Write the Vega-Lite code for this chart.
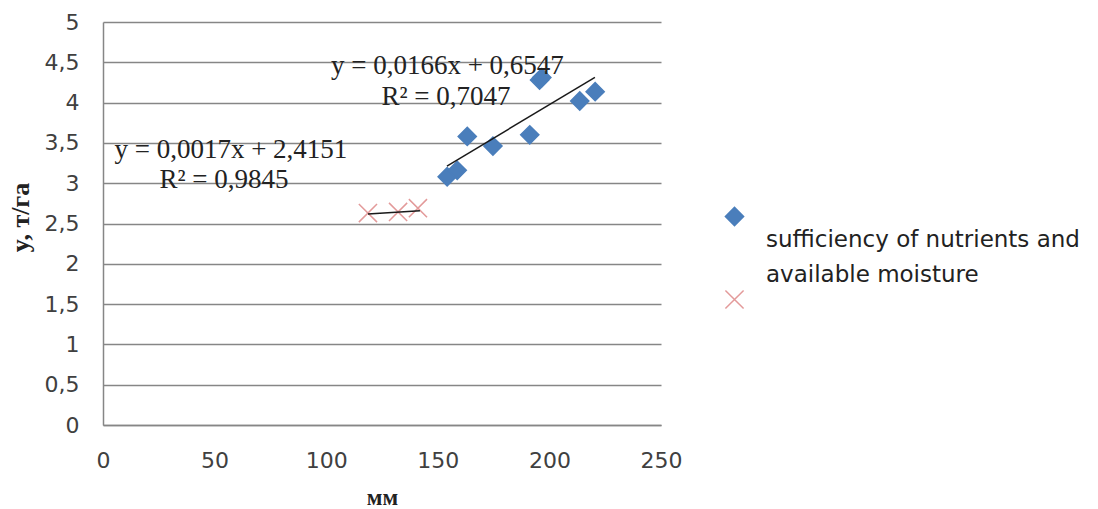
{
  "$schema": "https://vega.github.io/schema/vega-lite/v6.json",
  "width": 558,
  "height": 403,
  "autosize": {"type": "none"},
  "padding": {"left": 103, "top": 22, "right": 437, "bottom": 84},
  "background": "white",
  "config": {
    "view": {"stroke": null},
    "style": {"guide-label": {"lineHeight": 35, "dy": 6}}
  },
  "datasets": {
    "points": [
      {"series": "A", "mm": 154.2, "yield": 3.08},
      {"series": "A", "mm": 158.7, "yield": 3.16},
      {"series": "A", "mm": 163.2, "yield": 3.58},
      {"series": "A", "mm": 174.7, "yield": 3.46},
      {"series": "A", "mm": 191.2, "yield": 3.60},
      {"series": "A", "mm": 195.6, "yield": 4.28},
      {"series": "A", "mm": 196.6, "yield": 4.31},
      {"series": "A", "mm": 213.6, "yield": 4.02},
      {"series": "A", "mm": 220.5, "yield": 4.135},
      {"series": "B", "mm": 118.7, "yield": 2.63},
      {"series": "B", "mm": 132.2, "yield": 2.643},
      {"series": "B", "mm": 141.1, "yield": 2.69}
    ],
    "trends": [
      {"series": "A", "mm": 154.1, "yield": 3.213},
      {"series": "A", "mm": 220.4, "yield": 4.313},
      {"series": "B", "mm": 118.7, "yield": 2.617},
      {"series": "B", "mm": 142.0, "yield": 2.657}
    ],
    "labels": [
      {"mm": 154.3, "yield": 4.454, "text": "y = 0,0166x + 0,6547"},
      {"mm": 153.7, "yield": 4.07, "text": "R² = 0,7047"},
      {"mm": 57.3, "yield": 3.41, "text": "y = 0,0017x + 2,4151"},
      {"mm": 54.2, "yield": 3.04, "text": "R² = 0,9845"}
    ]
  },
  "layer": [
    {
      "data": {"name": "points"},
      "mark": {"type": "point", "filled": true, "size": 330, "strokeWidth": 1.5, "opacity": 1},
      "encoding": {
        "x": {
          "field": "mm", "type": "quantitative",
          "scale": {"domain": [0, 250], "nice": false, "zero": false},
          "axis": {
            "values": [0, 50, 100, 150, 200, 250],
            "grid": false, "ticks": false, "tickSize": 0, "labelFlush": false,
            "domainColor": "#868686", "domainWidth": 1.5,
            "labelFont": "DejaVu Sans", "labelFontSize": 22, "labelColor": "#404040",
            "labelPadding": 19,
            "title": "мм", "titleFont": "Liberation Serif", "titleFontSize": 23,
            "titleFontWeight": "bold", "titleColor": "#222222", "titlePadding": 15
          }
        },
        "y": {
          "field": "yield", "type": "quantitative",
          "scale": {"domain": [0, 5], "nice": false, "zero": false},
          "axis": {
            "values": [0, 0.5, 1, 1.5, 2, 2.5, 3, 3.5, 4, 4.5, 5],
            "labelExpr": "replace(format(datum.value, '~g'), '.', ',')",
            "grid": true, "gridColor": "#868686", "gridWidth": 1.5,
            "ticks": false, "tickSize": 0, "labelFlush": false, "labelOffset": -6,
            "domainColor": "#868686", "domainWidth": 1.5,
            "labelFont": "DejaVu Sans", "labelFontSize": 22, "labelColor": "#404040",
            "labelPadding": 24,
            "title": "y, т/га", "titleFont": "Liberation Serif", "titleFontSize": 26,
            "titleFontWeight": "bold", "titleColor": "#222222", "titlePadding": 11,
            "titleY": 195
          }
        },
        "shape": {
          "field": "series", "type": "nominal",
          "scale": {"domain": ["A", "B"], "range": ["diamond", "M-1,-1L1,1M-1,1L1,-1"]},
          "legend": {
            "title": null,
            "orient": "none", "legendX": 620, "legendY": 183,
            "padding": 0,
            "symbolSize": 330, "symbolStrokeWidth": 1.5,
            "rowPadding": 0,
            "labelFont": "DejaVu Sans", "labelFontSize": 23, "labelColor": "#222222",
            "labelBaseline": "line-top", "labelOffset": 20, "labelLimit": 500,
            "labelExpr": "datum.value == 'A' ? ['sufficiency of nutrients and', 'available moisture'] : ''"
          }
        },
        "fill": {
          "field": "series", "type": "nominal",
          "scale": {"domain": ["A", "B"], "range": ["#4A7EBB", "transparent"]},
          "legend": {
            "title": null,
            "orient": "none", "legendX": 620, "legendY": 183,
            "padding": 0,
            "symbolSize": 330, "symbolStrokeWidth": 1.5,
            "rowPadding": 0,
            "labelFont": "DejaVu Sans", "labelFontSize": 23, "labelColor": "#222222",
            "labelBaseline": "line-top", "labelOffset": 20, "labelLimit": 500,
            "labelExpr": "datum.value == 'A' ? ['sufficiency of nutrients and', 'available moisture'] : ''"
          }
        },
        "stroke": {
          "field": "series", "type": "nominal",
          "scale": {"domain": ["A", "B"], "range": ["#4A7EBB", "#E39A9A"]},
          "legend": {
            "title": null,
            "orient": "none", "legendX": 620, "legendY": 183,
            "padding": 0,
            "symbolSize": 330, "symbolStrokeWidth": 1.5,
            "rowPadding": 0,
            "labelFont": "DejaVu Sans", "labelFontSize": 23, "labelColor": "#222222",
            "labelBaseline": "line-top", "labelOffset": 20, "labelLimit": 500,
            "labelExpr": "datum.value == 'A' ? ['sufficiency of nutrients and', 'available moisture'] : ''"
          }
        }
      }
    },
    {
      "data": {"name": "trends"},
      "mark": {"type": "line", "color": "#1a1a1a", "strokeWidth": 1.5},
      "encoding": {
        "x": {"field": "mm", "type": "quantitative"},
        "y": {"field": "yield", "type": "quantitative"},
        "detail": {"field": "series", "type": "nominal"}
      }
    },
    {
      "data": {"name": "labels"},
      "mark": {"type": "text", "font": "Liberation Serif", "fontSize": 27, "color": "#222222", "align": "center", "baseline": "middle"},
      "encoding": {
        "x": {"field": "mm", "type": "quantitative"},
        "y": {"field": "yield", "type": "quantitative"},
        "text": {"field": "text", "type": "nominal"}
      }
    }
  ]
}
